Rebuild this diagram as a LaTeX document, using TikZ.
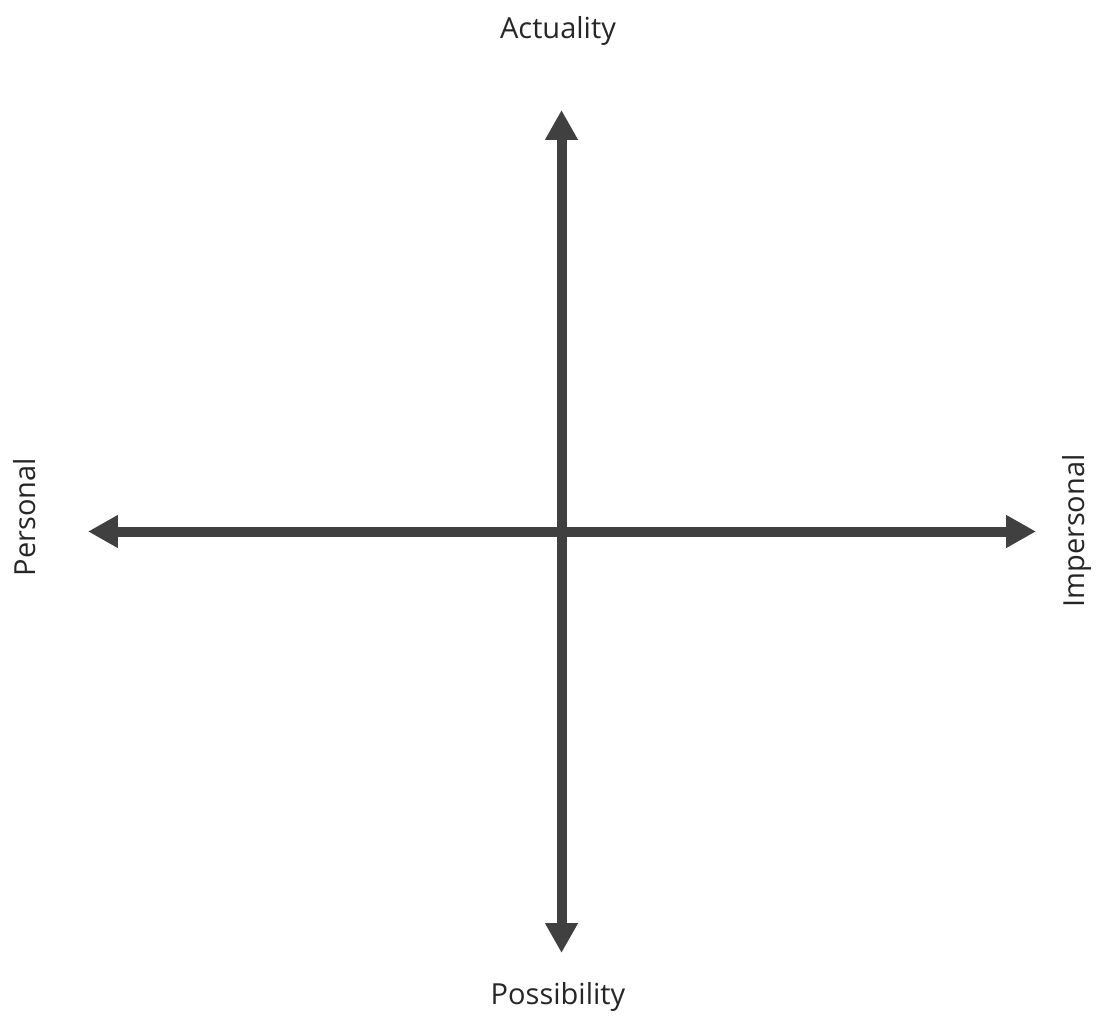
\documentclass[tikz,border=0pt]{standalone}
\usepackage{fontspec}
\setmainfont{Open Sans}
\usetikzlibrary{arrows.meta}
\definecolor{axisgray}{HTML}{404040}
\definecolor{labelgray}{HTML}{262626}
\tikzset{
  axisline/.style={line width=0.2cm,draw=axisgray,
    {Triangle[length=0.6cm,width=0.62cm]}-{Triangle[length=0.6cm,width=0.62cm]}},
  poslabel/.style={text=labelgray,inner sep=0pt,font=\fontsize{16.5}{20}\selectfont}
}
\begin{document}
\begin{tikzpicture}[x=0.02cm,y=0.02cm]
    \useasboundingbox (0,0) rectangle (1097,1015);
    \coordinate (top) at (561.5,905);
    \coordinate (bottom) at (561.5,62);
    \coordinate (left) at (88,483.5);
    \coordinate (right) at (1036,483.5);
    \draw[axisline] (left) -- (right);
    \draw[axisline] (bottom) -- (top);
    \node[poslabel] (actuality) at (558,984) {Actuality};
    \node[poslabel] (possibility) at (558,18) {Possibility};
    \node[poslabel,rotate=90] (personal) at (25,498) {Personal};
    \node[poslabel,rotate=90] (impersonal) at (1077,484) {Impersonal};
  \end{tikzpicture}
\end{document}
